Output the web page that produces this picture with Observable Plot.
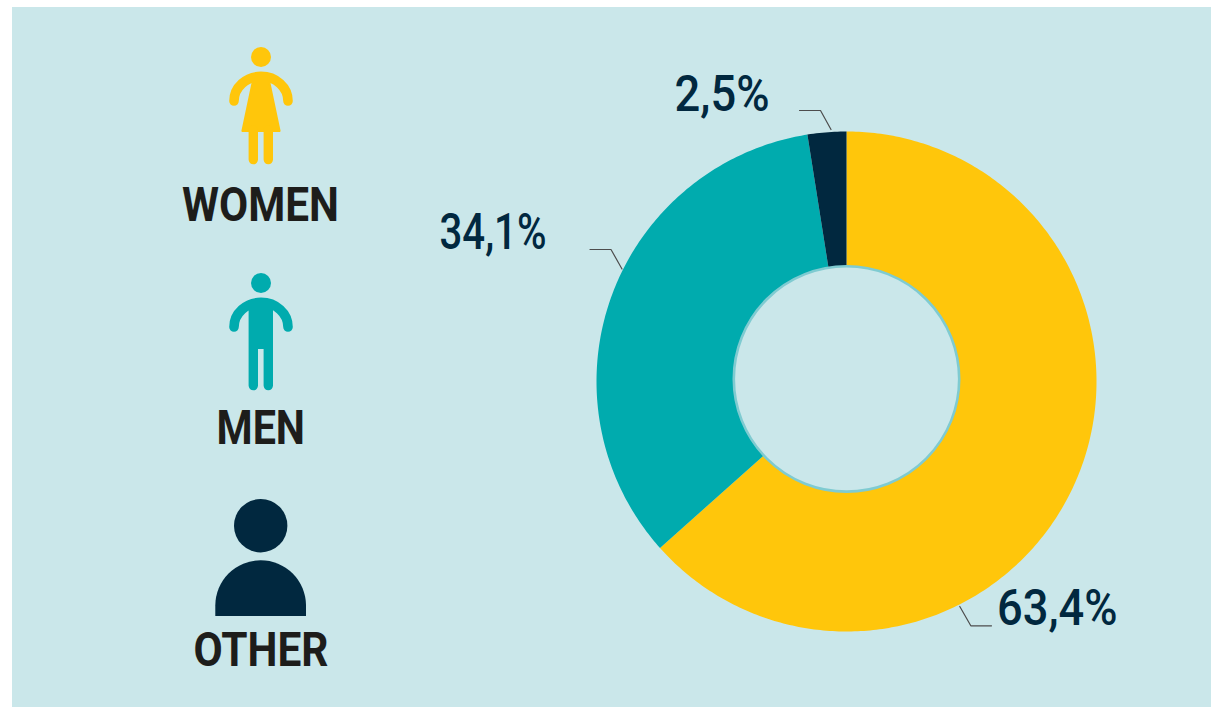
<!DOCTYPE html>
<html>
<head>
<meta charset="utf-8">
<script src="https://cdn.jsdelivr.net/npm/d3@7"></script>
<script src="https://cdn.jsdelivr.net/npm/@observablehq/plot@0.6"></script>
<style>
html,body{margin:0;padding:0;background:#fff;width:1211px;height:707px;overflow:hidden}
#panel{position:absolute;left:12px;top:7px;width:1199px;height:700px;background:#cae7ea}
#chart{position:absolute;left:0;top:0}
#chart svg{background:transparent;display:block}
</style>
</head>
<body>
<div id="panel"></div>
<div id="chart"></div>
<script>
// Data
const categories = ["Women", "Men", "Other"];
const shares = [63.4, 34.1, 2.5];
const shareLabels = ["63,4%", "34,1%", "2,5%"];
const legendLabels = ["WOMEN", "MEN", "OTHER"];
const colors = ["#ffc60b", "#00abae", "#01283f"];

// Layout
const W = 1211, H = 707;
const cx = 846, cy = 381, rOuter = 250, rUnder = 100;
const hole = {x: 846, y: 378.4, r: 112.7};
const shareText = [
  {x: 996.5, y: 589, w: 120.5},
  {x: 439, y: 213, w: 107},
  {x: 674, y: 74.5, w: 95}
];
const legendText = [
  {x: 181.5, y: 186, w: 157},
  {x: 216, y: 408.5, w: 88.5},
  {x: 193, y: 631, w: 135}
];
const leaders = [
  [[959.3, 606], [970.3, 625.3], [991, 625.3]],
  [[589.5, 249], [610.5, 249], [621.5, 268.5]],
  [[799, 110], [820, 110], [830.5, 129]]
];

// Wedges, walked clockwise from twelve o'clock through the shares
const total = d3.sum(shares);
const wedgePts = [];
let acc = 0;
categories.forEach((c, i) => {
  const a0 = acc / total * 2 * Math.PI;
  acc += shares[i];
  const a1 = acc / total * 2 * Math.PI;
  const n = Math.max(8, Math.ceil((a1 - a0) * 80));
  const at = (r, a) => ({c, x: cx + r * Math.sin(a), y: cy - r * Math.cos(a)});
  for (let k = 0; k <= n; ++k) wedgePts.push(at(rOuter, a0 + (a1 - a0) * k / n));
  for (let k = n; k >= 0; --k) wedgePts.push(at(rUnder, a0 + (a1 - a0) * k / n));
});

const leaderPts = leaders.flatMap((l, i) => l.map(([x, y]) => ({i, x, y})));

// Pictograms beside the legend labels
function icons() {
  const g = d3.create("svg:g");
  const limb = (d, color, w) => g.append("path").attr("d", d).attr("fill", "none")
    .attr("stroke", color).attr("stroke-width", w).attr("stroke-linecap", "round");
  const [yellow, teal, navy] = colors;
  // woman
  g.append("circle").attr("cx", 261).attr("cy", 57).attr("r", 10).attr("fill", yellow);
  limb("M234 101A27 24.6 0 0 1 288 101", yellow, 9.6);
  g.append("path").attr("d", "M254 76H268L279.6 131H242.4Z").attr("fill", yellow)
    .attr("stroke", yellow).attr("stroke-width", 2).attr("stroke-linejoin", "round");
  limb("M253.3 130V159.6M268.3 130V159.6", yellow, 9.4);
  // man
  g.append("circle").attr("cx", 261).attr("cy", 283).attr("r", 10).attr("fill", teal);
  limb("M234 327A27 24.6 0 0 1 288 327", teal, 9.6);
  g.append("path").attr("d", "M248.6 300H273V385.6A4.7 4.7 0 0 1 263.6 385.6V349H258V385.6A4.7 4.7 0 0 1 248.6 385.6Z").attr("fill", teal);
  // other
  g.append("circle").attr("cx", 260.7).attr("cy", 525.7).attr("r", 26.7).attr("fill", navy);
  g.append("path").attr("d", "M215.3 616V605.6A45.35 45.35 0 0 1 306 605.6V616Z").attr("fill", navy);
  return g.node();
}

const chart = Plot.plot({
  width: W, height: H,
  margin: 0,
  x: {domain: [0, W], range: [0, W], axis: null},
  y: {domain: [0, H], range: [0, H], axis: null},
  color: {domain: categories, range: colors},
  marks: [
    Plot.line(wedgePts, {x: "x", y: "y", z: "c", fill: "c", stroke: null, curve: "linear-closed"}),
    Plot.dot([hole], {x: "x", y: "y", r: hole.r, fill: "#cae7ea", stroke: "#7fcbd1", strokeWidth: 2.6}),
    Plot.line(leaderPts, {x: "x", y: "y", z: "i", stroke: "#4d4d4d", strokeWidth: 1.2, strokeLinejoin: "miter"}),
    Plot.text(shareLabels, {
      x: (d, i) => shareText[i].x, y: (d, i) => shareText[i].y, text: d => d,
      textAnchor: "start", lineAnchor: "top", fontSize: 50, fontWeight: 500,
      fontFamily: "Roboto", fill: "#01283f", className: "share"
    }),
    Plot.text(legendLabels, {
      x: (d, i) => legendText[i].x, y: (d, i) => legendText[i].y, text: d => d,
      textAnchor: "start", lineAnchor: "top", fontSize: 49, fontWeight: 700,
      fontFamily: "Roboto", fill: "#1d1d1b", className: "legend"
    }),
    icons
  ]
});

const fit = (cls, spec) => d3.select(chart).selectAll(`.${cls} text`)
  .attr("textLength", (d, i) => spec[i].w).attr("lengthAdjust", "spacingAndGlyphs");
fit("share", shareText);
fit("legend", legendText);

document.getElementById("chart").appendChild(chart);
</script>
</body>
</html>
